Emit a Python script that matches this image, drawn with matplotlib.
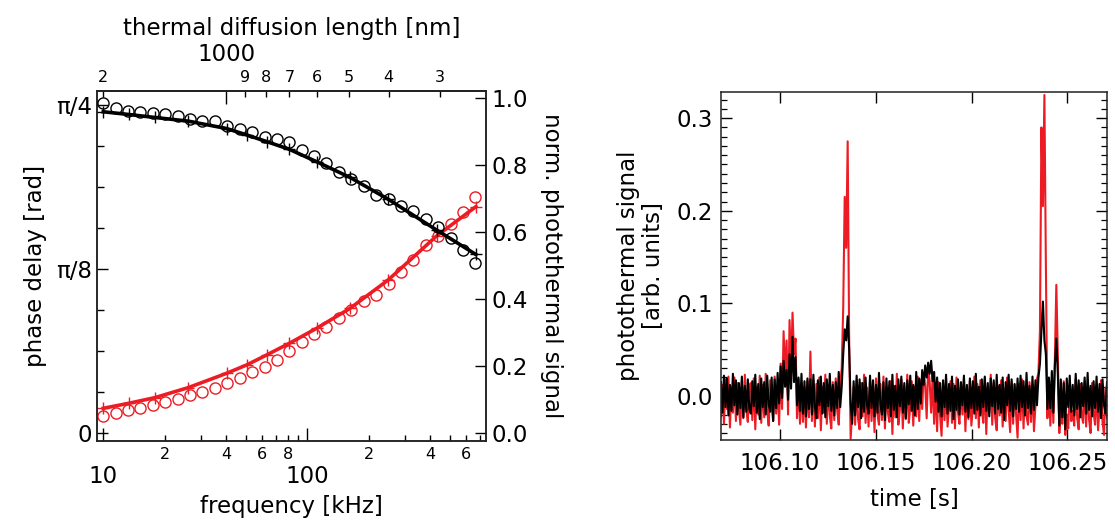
import numpy as np
import matplotlib
matplotlib.use("Agg")
import matplotlib.pyplot as plt
from matplotlib.ticker import FixedLocator, FixedFormatter

plt.rcParams['font.family'] = ['DejaVu Sans']

RED = '#ed1c24'
BLK = '#000000'

# ---------------- left panel data ----------------
freq_khz = [10, 11.5, 13.2, 15.2, 17.5, 20.1, 23.2, 26.6, 30.6, 35.2, 40.5,
            46.6, 53.6, 61.7, 71.0, 81.6, 93.9, 108, 124, 143, 164, 189,
            218, 250, 288, 331, 381, 438, 504, 580, 667]
norm_signal = [0.983, 0.968, 0.961, 0.957, 0.955, 0.952, 0.945, 0.935, 0.930,
               0.930, 0.916, 0.908, 0.899, 0.884, 0.876, 0.869, 0.844, 0.826,
               0.804, 0.777, 0.757, 0.737, 0.711, 0.697, 0.678, 0.662, 0.637,
               0.615, 0.580, 0.545, 0.508]
phase_rad = [0.0415, 0.0487, 0.0551, 0.0607, 0.0670, 0.0734, 0.0806, 0.0910,
             0.0990, 0.1086, 0.1205, 0.1309, 0.1453, 0.1588, 0.1748, 0.1972,
             0.2179, 0.2363, 0.2546, 0.2746, 0.2945, 0.3169, 0.3305, 0.3568,
             0.3855, 0.4143, 0.4494, 0.4717, 0.5005, 0.5284, 0.5659]

fit_freq = [10, 13.3, 17.9, 26.1, 40.2, 50.4, 63.2, 81.6, 111, 162, 249, 430, 670]
fit_norm = [0.958, 0.950, 0.941, 0.930, 0.908, 0.889, 0.869, 0.846, 0.809,
            0.762, 0.697, 0.605, 0.532]
fit_phase = [0.0591, 0.0710, 0.0846, 0.1086, 0.1429, 0.1628, 0.1868, 0.2147,
             0.2506, 0.2985, 0.3664, 0.4717, 0.5420]

# ---------------- right panel data (values in 1e-3 arb. units) ----------------
t_start, t_end = 106.0692, 106.2707
black_milli = [
    15, -18, 22, -12, 19, -21, 12, -16, 24, -10, 17, -20, 14, -13, 21, -23, 11, -17, 18, -14,
    -19, 16, -11, 23, -18, 13, -25, 19, -12, 15, -20, 22, -9, -17, 20, -27, 18, -13, 25, -8,
    32, -2, 38, 10, 28, -4, 45, 8, 64, 15, 42, -10, 20, -16, 24, -19, 16, -22, 19, -14,
    18, -20, 23, -12, -24, 17, -10, 21, -19, 14, -23, 18, -11, 24, -16, 12, -21, 15, -13, 26,
    -12, 10, 45, 72, 60, 86, 50, -8, -30, 16, -21, 22, -12, 18, -24, 14, -17, 20, -10, -19,
    22, -13, 17, -22, 12, -18, 25, -9, -20, 15, -26, 19, -13, 16, -22, 23, -15, 11, -23, 18,
    -11, 21, -18, 14, -24, 17, -9, 22, -16, 12, -21, 26, -14, 19, -8, 28, 12, 33, 20, 36,
    24, 38, 16, 26, -6, 20, -17, 14, -22, 17, -12, 23, -19, 13, -16, 21, -25, 11, -15, 18,
    -20, 15, -10, 22, -17, 12, -23, 19, -13, 16, -19, 24, -15, 10, -21, 18, -12, 21, -16, 14,
    -22, 19, -11, 17, -19, 23, -14, 12, -18, 20, -26, 15, -10, 23, -16, 18, -22, 13, -14, 19,
    -17, 22, -12, 16, -21, 25, -13, 11, -19, 21, -15, 17, -10, 20, 35, 70, 102, 60, 45, -14,
    20, -13, 27, -18, 32, 62, 24, -32, 18, -23, 14, -36, 19, -12, 22, -17, 12, -21, 24, -14,
    17, -23, 14, -11, 20, -19, 25, -15, 11, -22, 16, -13, 21, -17, 13, -24, 18, -10, -19, 15]
red_milli = [
    -22, 12, -30, 18, -14, 21, -34, 10, -18, 20, -27, 14, -12, -31, 16, -24, 23, -15, -28, 11,
    14, -26, 19, -36, 10, -20, 22, -29, 12, -23, 24, -16, -32, 17, -12, -27, 21, -19, 12, -31,
    35, -14, 70, 22, 60, -20, 82, 30, 90, 45, 62, -24, 18, -30, 14, -28, 10, -34, 16, -23,
    48, -27, 17, -33, 13, -24, 20, -37, 10, -18, 23, -30, 12, -21, -35, 15, -26, 19, -16, -31,
    12, 30, 95, 215, 160, 275, 60, -46, -18, 10, -31, 17, -25, -36, 14, -22, 23, -29, 9, -33,
    16, -27, 11, -39, 19, -20, -31, 13, -26, 21, -35, 10, -18, -28, 16, -41, 11, -23, 24, -31,
    -15, 18, -35, 11, -25, 23, -29, -12, 16, -32, 10, -22, 21, -27, 17, -14, 25, 12, -24, 30,
    16, -18, 22, -30, 12, -38, 15, -21, -43, 11, -26, 19, -33, -11, 16, -29, 13, -35, 20, -17,
    -30, 12, -20, 18, -38, 9, -25, 16, -32, -12, 21, -24, 13, -34, 17, -15, -29, 19, -41, 10,
    -18, 23, -31, 14, -24, -37, 11, -21, 17, -33, 8, -27, 20, -15, -39, 15, -30, 12, -20, -45,
    13, -26, 18, -35, 10, -22, -31, 15, -28, 12, -38, -10, 18, 25, 70, 290, 205, 325, 140, -24,
    14, -32, 17, -29, 38, 120, 45, -40, -14, -30, 16, -42, -20, -35, 11, -27, -16, -32, 18, -24,
    -36, 13, -21, -29, 16, -33, 10, -26, -40, 14, -18, -31, 12, -37, -12, 17, -28, -42, 9, -24]

FS_LAB = 16.5
FS_TICK = 16.5
FS_SMALL = 11.5

fig = plt.figure(figsize=(11.15, 5.2), dpi=100)

# ================= left panel =================
ax = fig.add_axes([97.3 / 1115, 1 - 441 / 520, (486 - 97.3) / 1115, (441 - 91) / 520])
ax.set_xscale('log')
ax.set_xlim(9.35, 751)
ax.set_ylim(-0.0192, 0.819)

axn = ax.twinx()
axn.set_ylim(-0.0248, 1.020)

ax.plot(fit_freq, fit_phase, color=RED, lw=2.6, marker='+', ms=9, mew=1.0, zorder=3)
ax.plot(freq_khz, phase_rad, ls='none', marker='o', ms=8, mfc='none', mec=RED, mew=1.0, zorder=4)
axn.plot(fit_freq, fit_norm, color=BLK, lw=2.6, marker='+', ms=9, mew=1.0, zorder=3)
axn.plot(freq_khz, norm_signal, ls='none', marker='o', ms=8, mfc='none', mec=BLK, mew=1.0, zorder=4)

# bottom axis
ax.xaxis.set_major_locator(FixedLocator([10, 100]))
ax.xaxis.set_major_formatter(FixedFormatter(['10', '100']))
minor_f = [20, 30, 40, 50, 60, 70, 80, 90, 200, 300, 400, 500, 600, 700]
minor_lab = ['2', '', '4', '', '6', '', '8', '', '2', '', '4', '', '6', '']
ax.xaxis.set_minor_locator(FixedLocator(minor_f))
ax.xaxis.set_minor_formatter(FixedFormatter(minor_lab))
ax.tick_params(axis='x', which='major', direction='in', length=9.5, width=1.0,
               labelsize=FS_TICK, pad=17, top=False)
ax.tick_params(axis='x', which='minor', direction='in', length=4.5, width=1.0,
               labelsize=FS_SMALL, pad=4, top=False)
ax.set_xlabel('frequency [kHz]', fontsize=FS_LAB, labelpad=5)

# left y axis (phase)
ax.set_yticks([0, np.pi / 8, np.pi / 4])
ax.set_yticklabels(['0', 'π/8', 'π/4'])
ax.set_yticks([np.pi / 32 * k for k in (1, 2, 3, 5, 6, 7)], minor=True)
ax.tick_params(axis='y', which='major', direction='in', length=8, width=1.0,
               labelsize=FS_TICK, pad=4, right=False)
ax.tick_params(axis='y', which='minor', direction='in', length=5, width=1.0, right=False)
ax.set_ylabel('phase delay [rad]', fontsize=FS_LAB, labelpad=6)

# right y axis (normalized)
axn.set_yticks([0, 0.2, 0.4, 0.6, 0.8, 1.0])
axn.set_yticklabels(['0.0', '0.2', '0.4', '0.6', '0.8', '1.0'])
axn.tick_params(axis='y', which='major', direction='in', length=8, width=1.0,
                labelsize=FS_TICK, pad=4)
axn.set_ylabel('norm. photothermal signal', fontsize=FS_LAB, rotation=270, labelpad=25)

# top axis: thermal diffusion length (L proportional to 1/sqrt(f))
L_ref_nm, f_ref_khz = 2000.0, 10.0


def f2L(f):
    f = np.asarray(f, dtype=float)
    return L_ref_nm * np.sqrt(f_ref_khz / np.clip(f, 1e-9, None))


def L2f(L):
    L = np.asarray(L, dtype=float)
    return f_ref_khz * (L_ref_nm / np.clip(L, 1e-9, None)) ** 2


sec = ax.secondary_xaxis('top', functions=(f2L, L2f))
sec.set_xticks([1000])
sec.set_xticklabels(['1000'])
sec.set_xticks([2000, 900, 800, 700, 600, 500, 400, 300], minor=True)
sec.xaxis.set_minor_formatter(FixedFormatter(['2', '9', '8', '7', '6', '5', '4', '3']))
sec.tick_params(axis='x', which='major', direction='in', length=9.5, width=1.0,
                labelsize=FS_TICK, pad=18)
sec.tick_params(axis='x', which='minor', direction='in', length=4.5, width=1.0,
                labelsize=FS_SMALL, pad=4)
sec.set_xlabel('thermal diffusion length [nm]', fontsize=FS_LAB, labelpad=6)

for a in (ax, axn):
    for s in a.spines.values():
        s.set_linewidth(1.1)
        s.set_color('#222222')
sec.spines['top'].set_linewidth(1.1)

# ================= right panel =================
axr = fig.add_axes([721 / 1115, 1 - 440 / 520, (1107 - 721) / 1115, (440 - 91.5) / 520])
t = np.linspace(t_start, t_end, len(black_milli))
axr.plot(t, np.array(red_milli) / 1000.0, color=RED, lw=1.5)
axr.plot(t, np.array(black_milli) / 1000.0, color=BLK, lw=1.5)
axr.set_xlim(t_start, t_end)
axr.set_ylim(-0.0475, 0.3288)
axr.set_xticks([106.10, 106.15, 106.20, 106.25])
axr.set_xticklabels(['106.10', '106.15', '106.20', '106.25'])
axr.set_yticks([0.0, 0.1, 0.2, 0.3])
axr.set_yticklabels(['0.0', '0.1', '0.2', '0.3'])
axr.set_yticks([k / 100 for k in range(-4, 33) if k % 10 != 0], minor=True)
axr.tick_params(axis='x', which='major', direction='in', length=8, width=1.0,
                labelsize=FS_TICK, pad=9, top=True)
axr.tick_params(axis='y', which='major', direction='in', length=8, width=1.0,
                labelsize=FS_TICK, pad=6, right=True)
axr.tick_params(axis='y', which='minor', direction='in', length=4, width=0.9, right=True)
axr.set_xlabel('time [s]', fontsize=FS_LAB, labelpad=9)
axr.set_ylabel('photothermal signal\n[arb. units]', fontsize=FS_LAB, labelpad=8,
               linespacing=1.1)
for s in axr.spines.values():
    s.set_linewidth(1.1)
    s.set_color('#222222')

fig.savefig('out.png', dpi=100)
